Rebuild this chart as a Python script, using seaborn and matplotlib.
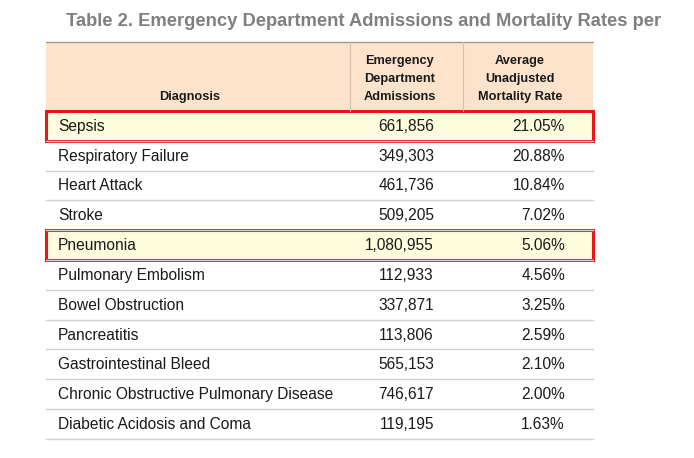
import numpy as np
import pandas as pd
import seaborn as sns
import matplotlib.pyplot as plt
from matplotlib.patches import Rectangle

# table contents
diagnoses = ['Sepsis', 'Respiratory Failure', 'Heart Attack', 'Stroke', 'Pneumonia',
             'Pulmonary Embolism', 'Bowel Obstruction', 'Pancreatitis',
             'Gastrointestinal Bleed', 'Chronic Obstructive Pulmonary Disease',
             'Diabetic Acidosis and Coma']
admissions = [661856, 349303, 461736, 509205, 1080955, 112933, 337871, 113806,
              565153, 746617, 119195]
mortality = [21.05, 20.88, 10.84, 7.02, 5.06, 4.56, 3.25, 2.59, 2.10, 2.00, 1.63]
highlighted = ['Sepsis', 'Pneumonia']
title = 'Table 2. Emergency Department Admissions and Mortality Rates per'
head_adm = ['Emergency', 'Department', 'Admissions']
head_mort = ['Average', 'Unadjusted', 'Mortality Rate']

df = pd.DataFrame({'Diagnosis': diagnoses, 'Admissions': admissions, 'Mortality': mortality})

sns.set_theme(style='white')
plt.rcParams['font.family'] = ['Liberation Sans Narrow', 'Liberation Sans', 'DejaVu Sans']

fig = plt.figure(figsize=(6.94, 4.58), dpi=100)
ax = fig.add_axes([0, 0, 1, 1])
ax.set_xlim(0, 694)
ax.set_ylim(458, 0)
ax.axis('off')

left, right = 46, 593
top_head, bot_head = 42, 111
row_h = 29.8
col1, col2 = 350, 463

# title
ax.text(66, 21, title, fontsize=13.2, fontweight='bold', color='#7f7f7f', va='center', ha='left')

# header
ax.add_patch(Rectangle((left, top_head), right - left, bot_head - top_head, color='#fde3cc', lw=0))
ax.plot([left, right], [top_head, top_head], color='#9a9a9a', lw=1)
ax.plot([col1, col1], [top_head, bot_head], color='#d2c0ae', lw=0.8)
ax.plot([col2, col2], [top_head, bot_head], color='#d2c0ae', lw=0.8)
hdr = dict(fontsize=9.2, fontweight='bold', color='#1a1a1a', ha='center', va='center')
ax.text(190, 97, 'Diagnosis', **hdr)
for k, (a, m) in enumerate(zip(head_adm, head_mort)):
    ax.text(400, 61 + k * 18, a, **hdr)
    ax.text(520, 61 + k * 18, m, **hdr)

# rows
for i, r in df.iterrows():
    y0 = bot_head + i * row_h
    yc = y0 + row_h / 2 + 0.5
    if r['Diagnosis'] in highlighted:
        ax.add_patch(Rectangle((left, y0), right - left, row_h, color='#fdfcdc', lw=0))
    ax.text(58, yc, r['Diagnosis'], fontsize=11.2, color='#1a1a1a', va='center', ha='left')
    ax.text(434, yc, f"{r['Admissions']:,}", fontsize=11.2, color='#1a1a1a', va='center', ha='right')
    ax.text(565, yc, f"{r['Mortality']:.2f}%", fontsize=11.2, color='#1a1a1a', va='center', ha='right')
    ax.plot([left, right], [y0 + row_h, y0 + row_h], color='#cfcfcf', lw=1)

for i, r in df.iterrows():
    if r['Diagnosis'] in highlighted:
        y0 = bot_head + i * row_h
        ax.add_patch(Rectangle((left, y0), right - left, row_h, fill=False,
                               edgecolor='#e8141b', lw=2.2))

fig.savefig('out.png', dpi=100)
